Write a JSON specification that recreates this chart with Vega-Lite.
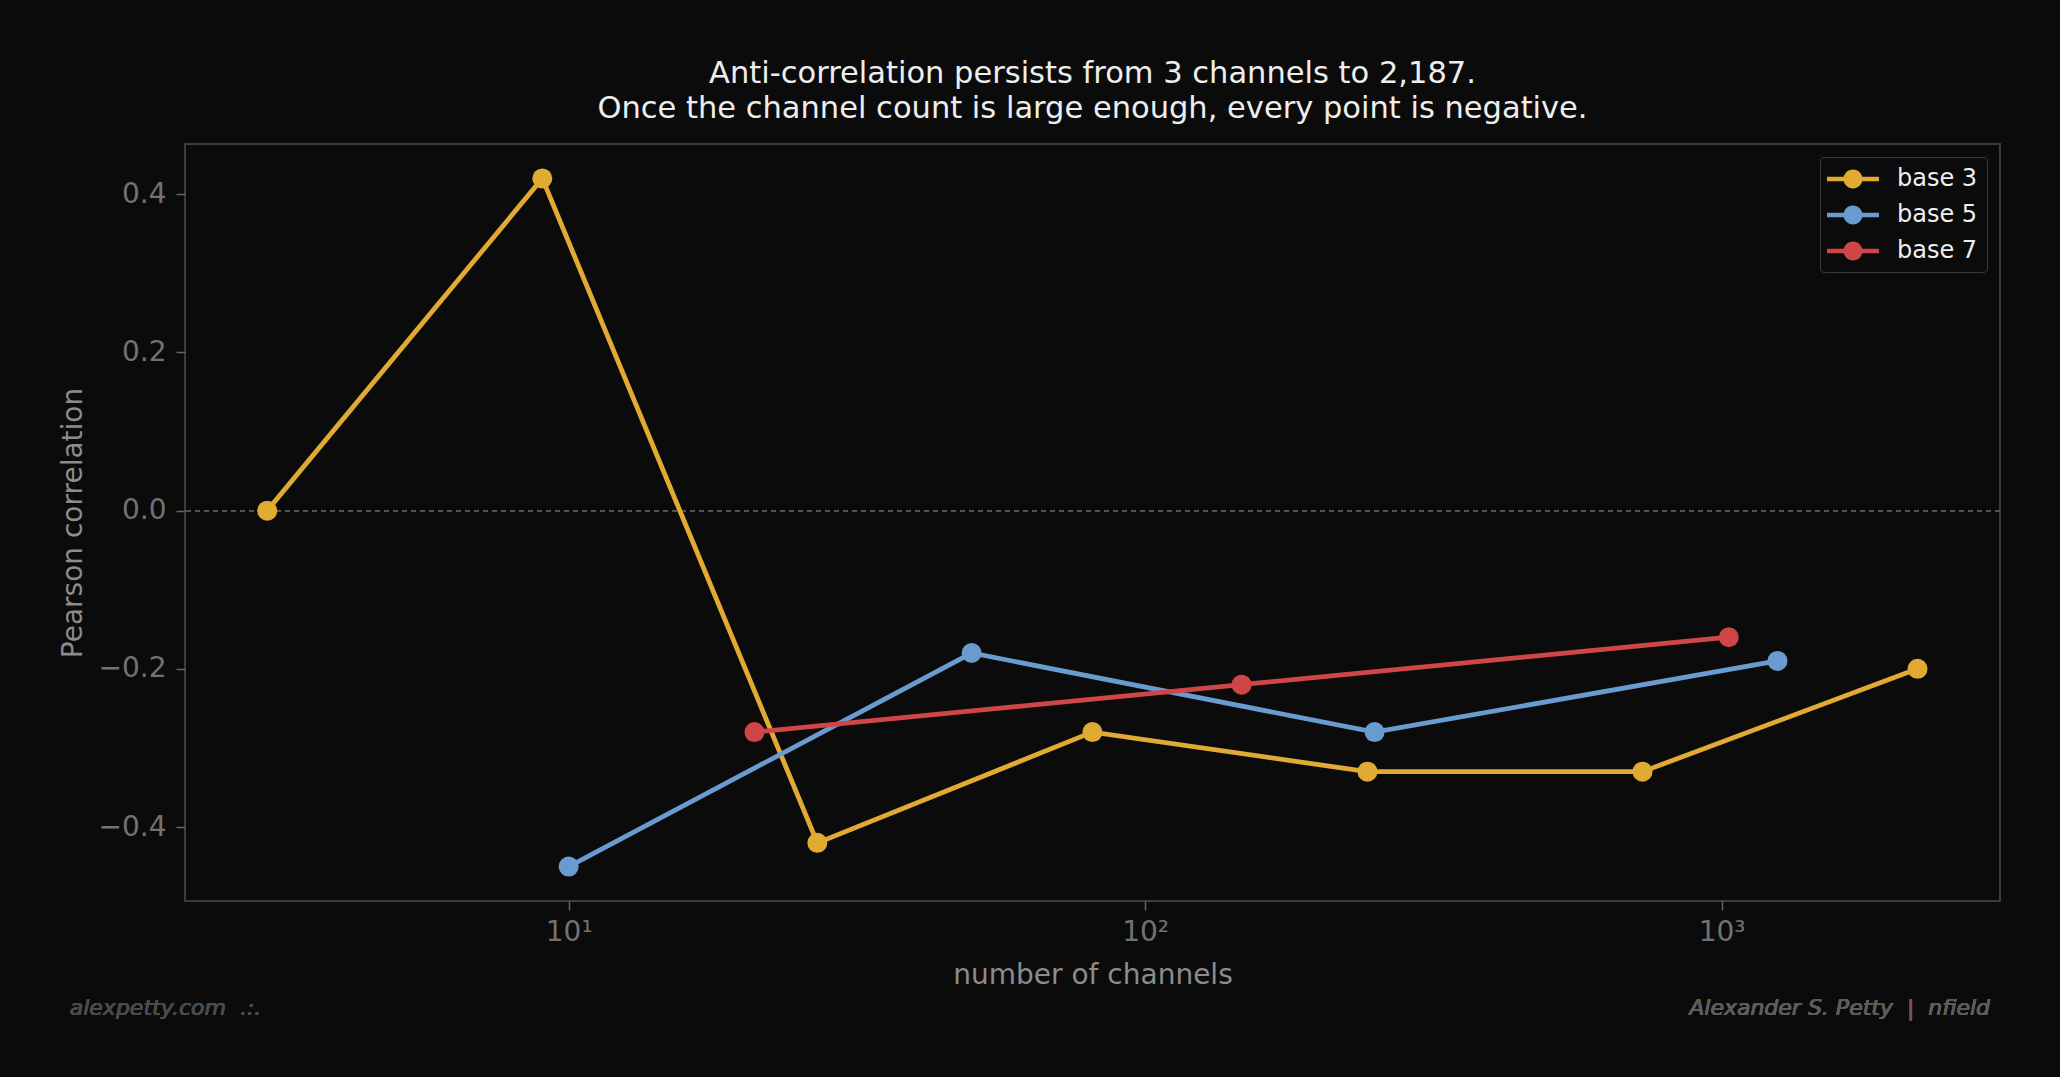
{
  "$schema": "https://vega.github.io/schema/vega-lite/v6.json",
  "width": 1815,
  "height": 757,
  "autosize": {"type": "none"},
  "padding": {"left": 185, "top": 144, "right": 60, "bottom": 176},
  "background": "#0b0b0b",
  "title": {
    "text": ["Anti-correlation persists from 3 channels to 2,187.", "Once the channel count is large enough, every point is negative."],
    "anchor": "middle",
    "frame": "group",
    "font": "DejaVu Sans",
    "fontSize": 30.5,
    "fontWeight": "normal",
    "color": "#eeeeee",
    "lineHeight": 35,
    "offset": 20
  },
  "data": {
    "values": [
      {"series": "base 3", "channels": 3, "r": 0.0},
      {"series": "base 3", "channels": 9, "r": 0.42},
      {"series": "base 3", "channels": 27, "r": -0.42},
      {"series": "base 3", "channels": 81, "r": -0.28},
      {"series": "base 3", "channels": 243, "r": -0.33},
      {"series": "base 3", "channels": 729, "r": -0.33},
      {"series": "base 3", "channels": 2187, "r": -0.2},
      {"series": "base 5", "channels": 10, "r": -0.45},
      {"series": "base 5", "channels": 50, "r": -0.18},
      {"series": "base 5", "channels": 250, "r": -0.28},
      {"series": "base 5", "channels": 1250, "r": -0.19},
      {"series": "base 7", "channels": 21, "r": -0.28},
      {"series": "base 7", "channels": 147, "r": -0.22},
      {"series": "base 7", "channels": 1029, "r": -0.16}
    ]
  },
  "encoding": {
    "x": {
      "field": "channels",
      "type": "quantitative",
      "scale": {"type": "log", "domain": [2.16, 3040], "nice": false, "zero": false},
      "axis": {
        "title": "number of channels",
        "values": [10, 100, 1000],
        "labelExpr": "datum.value == 10 ? '10¹' : datum.value == 100 ? '10²' : '10³'",
        "labelPadding": 8,
        "titlePadding": 15
      }
    },
    "y": {
      "field": "r",
      "type": "quantitative",
      "scale": {"domain": [-0.4935, 0.4635], "nice": false, "zero": false},
      "axis": {
        "title": "Pearson correlation",
        "values": [-0.4, -0.2, 0, 0.2, 0.4],
        "format": ".1f",
        "labelPadding": 10,
        "titlePadding": 11
      }
    }
  },
  "layer": [
    {
      "mark": {"type": "rule", "color": "#555555", "strokeWidth": 1.3, "strokeDash": [5, 4]},
      "encoding": {"y": {"datum": 0}, "x": null}
    },
    {
      "encoding": {
        "color": {
          "field": "series",
          "type": "nominal",
          "scale": {"domain": ["base 3", "base 5", "base 7"], "range": ["#e0aa33", "#6a9bd0", "#d04646"]},
          "legend": {
            "title": null,
            "orient": "top-right",
            "offset": 13,
            "padding": 9,
            "fillColor": "#0b0b0b",
            "strokeColor": "#3a3a3a",
            "cornerRadius": 4,
            "symbolType": "M-2,-0.17 L2,-0.17 L2,0.17 L-2,0.17 Z M-0.73,0 A0.73,0.73 0 1,1 0.73,0 A0.73,0.73 0 1,1 -0.73,0 Z",
            "symbolSize": 676,
            "symbolOffset": 11,
            "symbolStrokeWidth": 0,
            "symbolOpacity": 1,
            "labelFont": "DejaVu Sans",
            "labelFontSize": 24,
            "labelColor": "#eeeeee",
            "labelOffset": 31,
            "rowPadding": 11
          }
        }
      },
      "layer": [
        {"mark": {"type": "line", "strokeWidth": 4.8}},
        {"mark": {"type": "circle", "size": 400, "opacity": 1}}
      ]
    },
    {
      "mark": {"type": "text", "align": "left", "baseline": "middle", "font": "DejaVu Sans", "fontStyle": "italic", "fontSize": 22, "color": "#4a4a4a"},
      "encoding": {"x": {"datum": 1.363}, "y": {"datum": -0.629}, "text": {"value": "alexpetty.com \u00a0.:."}}
    },
    {
      "mark": {"type": "text", "align": "right", "baseline": "middle", "font": "DejaVu Sans", "fontStyle": "italic", "fontSize": 22, "color": "#5c5c5c"},
      "encoding": {"x": {"datum": 2922}, "y": {"datum": -0.629}, "text": {"value": "Alexander S. Petty \u00a0| \u00a0nfield"}}
    }
  ],
  "config": {
    "font": "DejaVu Sans",
    "view": {"stroke": "#3c3c3c", "strokeWidth": 2},
    "axis": {
      "grid": false,
      "domain": false,
      "tickSize": 9,
      "tickWidth": 1.5,
      "tickColor": "#666666",
      "labelFont": "DejaVu Sans",
      "labelFontSize": 28,
      "labelColor": "#727272",
      "titleFont": "DejaVu Sans",
      "titleFontSize": 28,
      "titleFontWeight": "normal",
      "titleColor": "#8c8c8c"
    }
  }
}
